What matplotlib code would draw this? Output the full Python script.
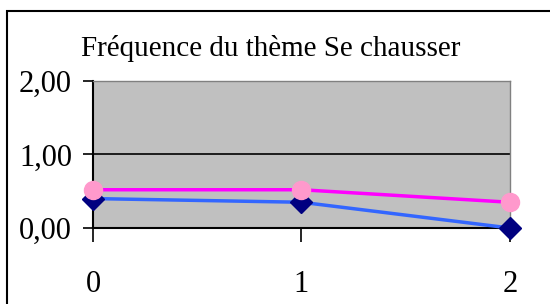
import matplotlib.pyplot as plt
from matplotlib.patches import Rectangle

# data
x_vals = [0, 1, 2]
serie_rose = [0.52, 0.52, 0.35]
serie_bleue = [0.40, 0.35, 0.00]
y_ticks = [0, 1, 2]
y_labels = ["0,00", "1,00", "2,00"]
titre = "Fréquence du thème Se chausser"

plt.rcParams['font.family'] = ['Liberation Serif', 'DejaVu Serif']

fig = plt.figure(figsize=(5.5, 3.04), dpi=100)
ax = fig.add_axes([0.169, 0.25, 0.758, 0.484])

# outer frame
fig.patches.append(Rectangle((7/550, -0.1), 1.2, 1 - 11/304 + 0.1, transform=fig.transFigure,
                             fill=False, edgecolor='black', linewidth=1.5))

ax.set_facecolor('#c0c0c0')
ax.axhline(1, color='black', linewidth=1.2, zorder=1)

ax.plot(x_vals, serie_bleue, color='#3366ff', linewidth=2.5, marker='D', markersize=11,
        markerfacecolor='#000080', markeredgecolor='#000080', zorder=3, clip_on=False)
ax.plot(x_vals, serie_rose, color='#ff00ff', linewidth=2.5, marker='o', markersize=13,
        markerfacecolor='#ff99cc', markeredgecolor='#ff99cc', zorder=4, clip_on=False)

ax.set_xlim(0, 2)
ax.set_ylim(0, 2)
ax.set_xticks(x_vals)
ax.set_xticklabels([str(v) for v in x_vals], fontsize=22)
ax.set_yticks(y_ticks)
ax.set_yticklabels(y_labels, fontsize=22)
ax.tick_params(axis='x', direction='out', length=10, width=1.2, pad=20)
ax.tick_params(axis='y', direction='out', length=7, width=1.2, pad=8)

for s in ['left', 'bottom']:
    ax.spines[s].set_color('black')
    ax.spines[s].set_linewidth(1.5)
for s in ['right', 'top']:
    ax.spines[s].set_color('#808080')
    ax.spines[s].set_linewidth(1)

fig.text(271/550, 1 - 48/304, titre, ha='center', va='center', fontsize=21)

fig.savefig('out.png', dpi=100)
